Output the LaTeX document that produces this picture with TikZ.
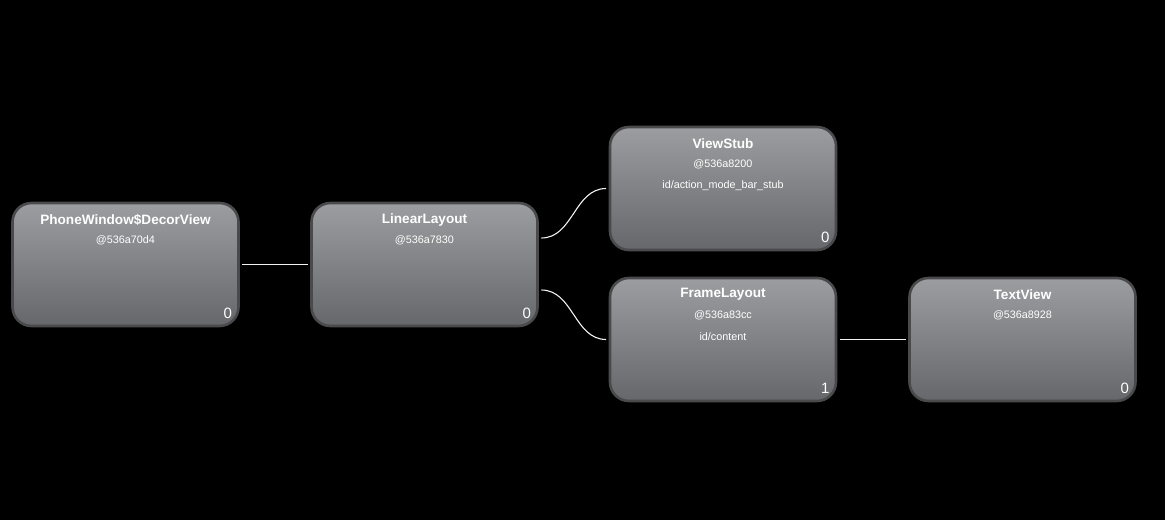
\documentclass[tikz,border=0pt]{standalone}
\usepackage{fontspec}
\setmainfont{Liberation Sans}
\usetikzlibrary{calc}
\definecolor{boxtop}{HTML}{9C9DA0}
\definecolor{boxbot}{HTML}{65676A}
\definecolor{boxborder}{HTML}{4A4A4C}
\definecolor{linkcol}{HTML}{F2F2F2}
\tikzset{
  viewbox/.style={draw=boxborder, line width=2.6pt, rounded corners=19pt,
    minimum width=226pt, minimum height=123pt, inner sep=0pt,
    top color=boxtop, bottom color=boxbot},
  titletext/.style={text=white, inner sep=0pt, anchor=center, font=\bfseries\fontsize{13.6}{15}\selectfont},
  addrtext/.style={text=white, inner sep=0pt, anchor=center, font=\fontsize{10.8}{12}\selectfont},
  numtext/.style={text=white, inner sep=0pt, anchor=center, font=\fontsize{15}{17}\selectfont},
  link/.style={draw=linkcol, line width=1.1pt, shorten <=2.5pt, shorten >=2.5pt}
}
\begin{document}
\begin{tikzpicture}[x=1pt,y=-1pt]
\fill[black] (0,0) rectangle (1165,520);
\useasboundingbox (0,0) rectangle (1165,520);

\node[viewbox] (pw) at (125.5,264.5) {};
\node[viewbox] (ll) at (424.5,264.5) {};
\node[viewbox] (vs) at (723,188.5) {};
\node[viewbox] (fl) at (723,339.5) {};
\node[viewbox] (tv) at (1022.5,339.5) {};

% texts
\node[titletext] (pwT) at ($(pw.north)+(0,18)$) {PhoneWindow\$DecorView};
\node[addrtext]  (pwA) at ($(pw.north)+(0,39)$) {@536a70d4};
\node[numtext]   (pwN) at ($(pw.south east)+(-12,-14)$) {0};

\node[titletext] (llT) at ($(ll.north)+(0,18)$) {LinearLayout};
\node[addrtext]  (llA) at ($(ll.north)+(0,39)$) {@536a7830};
\node[numtext]   (llN) at ($(ll.south east)+(-12,-14)$) {0};

\node[titletext] (vsT) at ($(vs.north)+(0,18)$) {ViewStub};
\node[addrtext]  (vsA) at ($(vs.north)+(0,39)$) {@536a8200};
\node[addrtext]  (vsI) at ($(vs.north)+(0,60)$) {id/action\_mode\_bar\_stub};
\node[numtext]   (vsN) at ($(vs.south east)+(-12,-14)$) {0};

\node[titletext] (flT) at ($(fl.north)+(0,18)$) {FrameLayout};
\node[addrtext]  (flA) at ($(fl.north)+(0,39)$) {@536a83cc};
\node[addrtext]  (flI) at ($(fl.north)+(0,60)$) {id/content};
\node[numtext]   (flN) at ($(fl.south east)+(-12,-14)$) {1};

\node[titletext] (tvT) at ($(tv.north)+(0,18)$) {TextView};
\node[addrtext]  (tvA) at ($(tv.north)+(0,39)$) {@536a8928};
\node[numtext]   (tvN) at ($(tv.south east)+(-12,-14)$) {0};

% connectors
\draw[link] (pw.east) -- (ll.west);
\draw[link] (fl.east) -- (tv.west);
\coordinate (llup) at ($(ll.east)+(2.5,-26.5)$);
\coordinate (lldn) at ($(ll.east)+(2.5,25.5)$);
\coordinate (vsin) at ($(vs.west)+(-2.5,0)$);
\coordinate (flin) at ($(fl.west)+(-2.5,0)$);
\draw[draw=linkcol, line width=1.1pt] (llup) .. controls ($(llup)+(32,0)$) and ($(vsin)+(-32,0)$) .. (vsin);
\draw[draw=linkcol, line width=1.1pt] (lldn) .. controls ($(lldn)+(32,0)$) and ($(flin)+(-32,0)$) .. (flin);
\end{tikzpicture}
\end{document}
